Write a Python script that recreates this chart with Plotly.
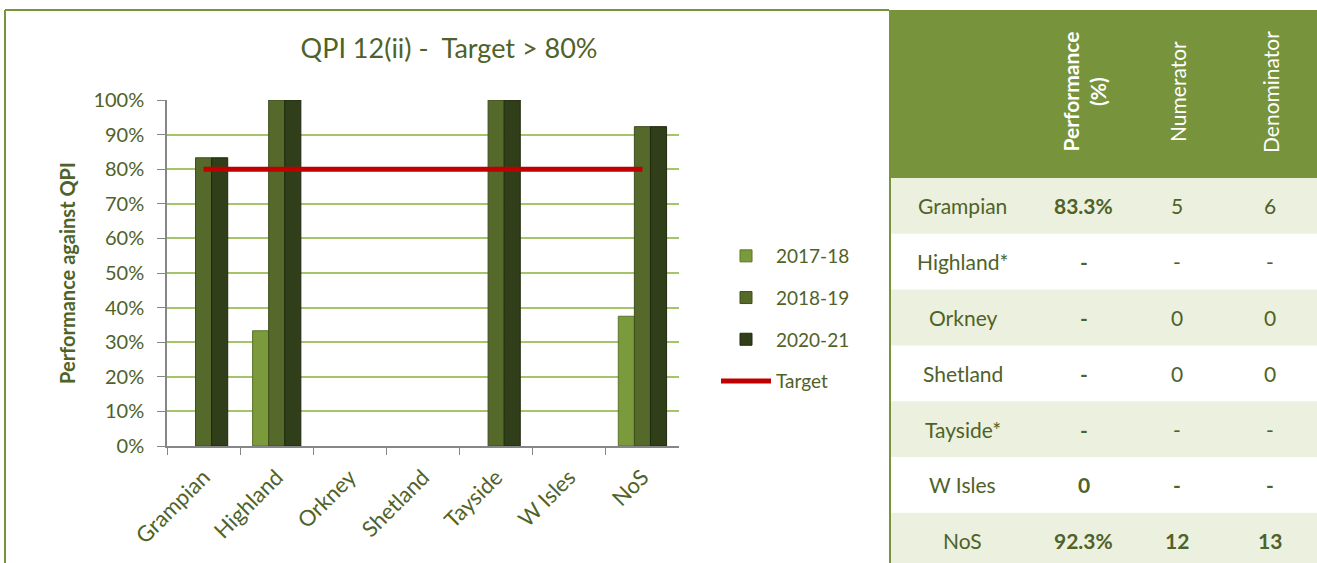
import plotly.graph_objects as go

# ---------------- data ----------------
categories = ["Grampian", "Highland", "Orkney", "Shetland", "Tayside", "W Isles", "NoS"]
series_names = ["2017-18", "2018-19", "2020-21"]
vals_2017_18 = [None, 33.3, None, None, None, None, 37.5]
vals_2018_19 = [83.3, 100, None, None, 100, None, 92.3]
vals_2020_21 = [83.3, 100, None, None, 100, None, 92.3]
target = [80, 80, 80, 80, 80, 80, 80]
y_ticks = [0, 10, 20, 30, 40, 50, 60, 70, 80, 90, 100]
y_tick_labels = ["0%", "10%", "20%", "30%", "40%", "50%", "60%", "70%", "80%", "90%", "100%"]

table_boards = ["Grampian", "Highland*", "Orkney", "Shetland", "Tayside*", "W Isles", "NoS"]
table_perf = ["83.3%", "-", "-", "-", "-", "0", "92.3%"]
table_num = ["5", "-", "0", "0", "-", "-", "12"]
table_den = ["6", "-", "0", "0", "-", "-", "13"]
table_bold_counts = [False, False, False, False, False, True, True]
table_headers = ["Performance<br>(%)", "Numerator", "Denominator"]

# ---------------- style ----------------
W, H = 1317, 563
FONT = "Lato, 'Open Sans', sans-serif"
TXT = "#4F6228"
OLIVE = "#77933C"
LIGHT = "#EBF1DE"
bar_colors = ["#7A9A3C", "#55692B", "#303F19"]
bar_lines = ["#5A7428", "#3E4E1E", "#1E2A0E"]


def px(x):
    return x / W


def py(y):
    return 1 - y / H


fig = go.Figure()
for name, vals, c, lc in zip(series_names, [vals_2017_18, vals_2018_19, vals_2020_21], bar_colors, bar_lines):
    fig.add_trace(go.Bar(
        x=categories, y=vals, name=name,
        marker=dict(color=c, line=dict(color=lc, width=1)),
        legendgroup=name,
    ))
fig.add_trace(go.Scatter(
    x=categories, y=target, name="Target", mode="lines",
    line=dict(color="#C00000", width=5), legendgroup="Target",
))

fig.update_layout(
    width=W, height=H,
    margin=dict(l=0, r=0, t=0, b=0, autoexpand=False),
    paper_bgcolor="white", plot_bgcolor="white",
    font=dict(family=FONT, color=TXT, size=18),
    barmode="group", bargap=0.34, bargroupgap=0,
    showlegend=True,
    legend=dict(
        x=px(716), y=py(237), xanchor="left", yanchor="top",
        font=dict(size=19, color=TXT), tracegroupgap=14,
        bgcolor="rgba(0,0,0,0)", itemwidth=50,
    ),
    title=dict(
        text="QPI 12(ii) -  Target > 80%", x=px(449), xanchor="center",
        xref="paper", yref="paper",
        y=py(49), yanchor="middle", font=dict(size=27, color=TXT, family=FONT),
        automargin=False,
    ),
    xaxis=dict(
        domain=[px(167), px(679)], automargin=False,
        showline=True, linecolor="#868686", linewidth=1.5,
        ticks="outside", tickson="boundaries", ticklen=7, tickcolor="#868686",
        tickangle=-45, tickfont=dict(size=22, color=TXT), ticklabelstandoff=8,
        showgrid=False,
    ),
    yaxis=dict(
        domain=[py(446), py(100)], range=[0, 100], automargin=False,
        tickmode="array", tickvals=y_ticks, ticktext=y_tick_labels,
        showline=True, linecolor="#868686", linewidth=1.5,
        ticks="outside", ticklen=8, tickcolor="#868686", ticklabelstandoff=9,
        showgrid=True, gridcolor="#A6C46A", gridwidth=2,
        zeroline=False, tickfont=dict(size=20, color=TXT),
        title=dict(text="<b>Performance against QPI</b>", font=dict(size=20, color=TXT), standoff=12),
    ),
)

shapes = []
annotations = []
# chart frame
shapes.append(dict(type="line", xref="paper", yref="paper", x0=px(5), x1=px(889), y0=py(10), y1=py(10),
                   line=dict(color=OLIVE, width=2)))
shapes.append(dict(type="line", xref="paper", yref="paper", x0=px(5), x1=px(5), y0=py(10), y1=py(563),
                   line=dict(color=OLIVE, width=2)))

# table
tx0, tx1 = 889, 1317
col_edges = [889, 1036, 1131, 1223, 1317]
col_centers = [(col_edges[i] + col_edges[i + 1]) / 2 for i in range(4)]
header_top, header_bot = 10, 178
row_h = 55.8
shapes.append(dict(type="rect", xref="paper", yref="paper", x0=px(tx0), x1=px(tx1), y0=py(header_bot), y1=py(header_top),
                   fillcolor=OLIVE, line=dict(width=0), layer="below"))
for i in range(len(table_boards)):
    top = header_bot + i * row_h
    if i % 2 == 0:
        shapes.append(dict(type="rect", xref="paper", yref="paper", x0=px(tx0), x1=px(tx1),
                           y0=py(min(top + row_h, H)), y1=py(top),
                           fillcolor=LIGHT, line=dict(width=0), layer="below"))
    cy = py(top + row_h / 2)
    cells = [table_boards[i], table_perf[i], table_num[i], table_den[i]]
    bolds = [False, True, table_bold_counts[i], table_bold_counts[i]]
    for j, (txt, b) in enumerate(zip(cells, bolds)):
        annotations.append(dict(
            xref="paper", yref="paper", x=px(col_centers[j]), y=cy,
            text=f"<b>{txt}</b>" if b else txt, showarrow=False,
            xanchor="center", yanchor="middle",
            font=dict(size=21, color=TXT, family=FONT),
        ))
shapes.append(dict(type="line", xref="paper", yref="paper", x0=px(890), x1=px(890), y0=py(10), y1=py(563),
                   line=dict(color=OLIVE, width=2)))
for j, h in enumerate(table_headers):
    annotations.append(dict(
        xref="paper", yref="paper", x=px(col_centers[j + 1]), y=py(92),
        text=f"<b>{h}</b>" if j == 0 else h, showarrow=False, textangle=-90,
        xanchor="center", yanchor="middle",
        font=dict(size=21, color="white", family=FONT),
    ))

fig.update_layout(shapes=shapes, annotations=annotations)
fig.write_html("out.html", config={"displayModeBar": False},
               post_script="document.body.style.margin='0';document.body.style.overflow='hidden';")
